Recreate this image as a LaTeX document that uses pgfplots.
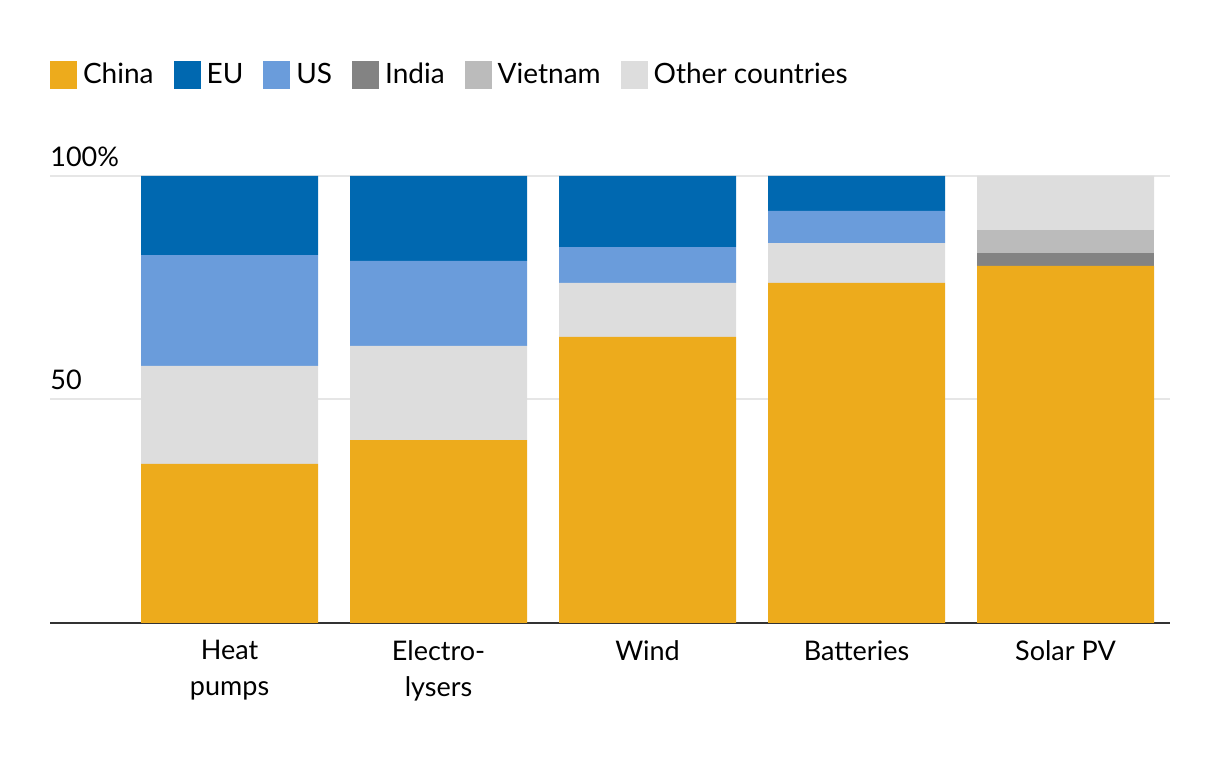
\documentclass[border=0pt]{standalone}
\usepackage{pgfplots}
\pgfplotsset{compat=1.18}
\usepackage{fontspec}
\setmainfont{Lato}

\definecolor{chinac}{HTML}{EDAB1C}
\definecolor{euc}{HTML}{0068B0}
\definecolor{usc}{HTML}{6A9CDB}
\definecolor{indiac}{HTML}{838383}
\definecolor{vietc}{HTML}{BBBBBB}
\definecolor{otherc}{HTML}{DDDDDD}
\definecolor{gridc}{HTML}{E6E6E6}
\definecolor{axisc}{HTML}{333333}

\begin{document}
\begin{tikzpicture}
  \useasboundingbox (0,0) rectangle (610pt,382pt);
  \begin{axis}[
      at={(25pt,70.5pt)}, anchor=south west,
      scale only axis,
      width=560pt, height=223.5pt,
      xmin=-0.859, xmax=4.5,
      ymin=0, ymax=100,
      ybar stacked,
      bar width=88.5pt,
      font=\fontsize{13.5}{18}\selectfont,
      axis x line=bottom, axis y line=left,
      x axis line style={-, color=axisc, line width=1pt},
      y axis line style={draw=none},
      xtick=data,
      xticklabels={Heat\\pumps, Electro-\\lysers, Wind, Batteries, Solar PV},
      xticklabel style={align=center, inner sep=0pt, yshift=-8.5pt},
      ytick={50,100},
      yticklabels={50,100\%},
      yticklabel style={anchor=south west, inner sep=0pt, yshift=4.5pt},
      major tick length=0pt,
      ymajorgrids,
      major grid style={color=gridc, line width=1pt},
      legend style={at={(0,1.258)}, anchor=north west, draw=none,
        inner sep=0pt, outer sep=0pt,
        legend columns=-1, font=\fontsize{14}{16}\selectfont,
        nodes={inner sep=0pt},
        /tikz/every odd column/.append style={column sep=3pt},
        /tikz/every even column/.append style={column sep=10pt}},
      legend image code/.code={\fill[#1] (0pt,-7pt) rectangle (13.5pt,7pt);},
    ]
    % stack order bottom to top: China, India, Vietnam, Other, US, EU
    \addplot[fill=chinac, draw=none, forget plot] coordinates
      {(0,35.6) (1,40.9) (2,64.0) (3,76.1) (4,79.9)};
    \addplot[fill=indiac, draw=none, forget plot] coordinates
      {(0,0) (1,0) (2,0) (3,0) (4,2.9)};
    \addplot[fill=vietc, draw=none, forget plot] coordinates
      {(0,0) (1,0) (2,0) (3,0) (4,5.1)};
    \addplot[fill=otherc, draw=none, forget plot] coordinates
      {(0,21.9) (1,21.1) (2,12.1) (3,8.9) (4,12.1)};
    \addplot[fill=usc, draw=none, forget plot] coordinates
      {(0,24.8) (1,19.0) (2,8.0) (3,7.2) (4,0)};
    \addplot[fill=euc, draw=none, forget plot] coordinates
      {(0,17.7) (1,19.0) (2,15.9) (3,7.8) (4,0)};
    \addlegendimage{fill=chinac, draw=none}
    \addlegendimage{fill=euc, draw=none}
    \addlegendimage{fill=usc, draw=none}
    \addlegendimage{fill=indiac, draw=none}
    \addlegendimage{fill=vietc, draw=none}
    \addlegendimage{fill=otherc, draw=none}
    \legend{China, EU, US, India, Vietnam, Other countries}
  \end{axis}
\end{tikzpicture}
\end{document}
